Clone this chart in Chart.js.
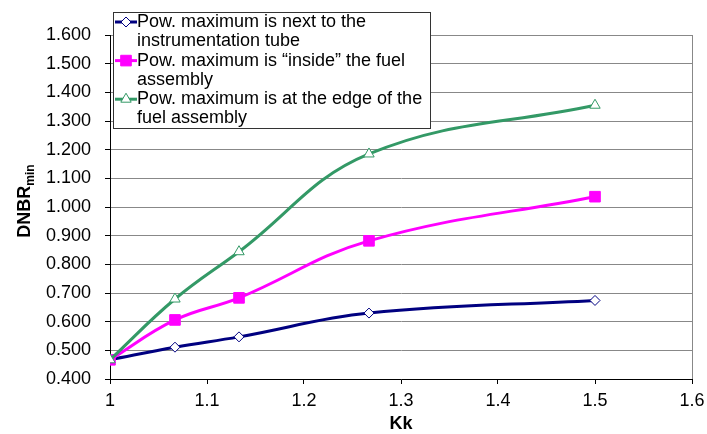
<!DOCTYPE html>
<html>
<head>
<meta charset="utf-8">
<script src="https://cdn.jsdelivr.net/npm/chart.js@4/dist/chart.umd.min.js"></script>
<style>
  html, body { margin: 0; padding: 0; background: #fff; }
  #wrap { width: 707px; height: 434px; position: relative; }
</style>
</head>
<body>
<div id="wrap"><canvas id="dnbrChart"></canvas></div>
<script>
// ── Data ─────────────────────────────────────────────────────────────
const kk = [1, 1.067, 1.133, 1.267, 1.5];

const nextToTube = [0.467, 0.511, 0.547, 0.630, 0.674];
const insideFA   = [0.467, 0.606, 0.683, 0.882, 1.036];
const edgeOfFA   = [0.467, 0.679, 0.844, 1.185, 1.355];

const yTicks = [0.4, 0.5, 0.6, 0.7, 0.8, 0.9, 1.0, 1.1, 1.2, 1.3, 1.4, 1.5, 1.6];
const xTicks = [1, 1.1, 1.2, 1.3, 1.4, 1.5, 1.6];

const series = [
  { label: ["Pow. maximum is next to the", "instrumentation tube"], data: nextToTube,
    color: "#000080", style: "rectRot", radius: 5, fill: "#fff", order: 3 },
  { label: ["Pow. maximum is \u201cinside\u201d the fuel", "assembly"], data: insideFA,
    color: "#ff00ff", style: "rect", radius: 7.5, fill: "#ff00ff", order: 2 },
  { label: ["Pow. maximum is at the edge of the", "fuel assembly"], data: edgeOfFA,
    color: "#339966", style: "triangle", radius: 6, fill: "#fff", order: 1 },
];

const FONT = "'Liberation Sans', Arial, sans-serif";

const datasets = series.map((s) => ({
  label: s.label.join(" "),
  data: s.data.map((v, i) => ({ x: kk[i], y: v })),
  borderColor: s.color,
  backgroundColor: s.fill,
  borderWidth: 3,
  tension: 0.4,
  pointStyle: s.style,
  pointRadius: s.radius,
  pointBorderColor: s.color,
  pointBackgroundColor: s.fill,
  pointBorderWidth: 1,
  order: s.order,
}));

// ── Custom drawing: legend box, axis titles ──────────────────────────
function marker(ctx, s, x, y) {
  ctx.save();
  ctx.strokeStyle = s.color;
  ctx.lineWidth = 3;
  ctx.beginPath();
  ctx.moveTo(x - 11, y);
  ctx.lineTo(x + 11, y);
  ctx.stroke();
  ctx.lineWidth = 1;
  ctx.fillStyle = s.fill;
  const r = s.radius;
  ctx.beginPath();
  if (s.style === "rectRot") {
    ctx.moveTo(x, y - r); ctx.lineTo(x + r, y); ctx.lineTo(x, y + r); ctx.lineTo(x - r, y);
  } else if (s.style === "rect") {
    const h = r * Math.SQRT1_2;
    ctx.rect(x - h, y - h, 2 * h, 2 * h);
  } else {
    ctx.moveTo(x, y - r);
    ctx.lineTo(x + r * 0.866, y + r * 0.5);
    ctx.lineTo(x - r * 0.866, y + r * 0.5);
  }
  ctx.closePath();
  ctx.fill();
  ctx.stroke();
  ctx.restore();
}

const extras = {
  id: "extras",
  afterDraw(chart) {
    const ctx = chart.ctx;
    const area = chart.chartArea;
    // legend
    ctx.save();
    ctx.fillStyle = "#fff";
    ctx.fillRect(113.5, 12.5, 317, 116);
    ctx.strokeStyle = "#333";
    ctx.lineWidth = 1;
    ctx.strokeRect(113.5, 12.5, 317, 116);
    ctx.font = "18px " + FONT;
    ctx.fillStyle = "#000";
    ctx.textBaseline = "middle";
    let y = 22;
    series.forEach((s) => {
      marker(ctx, s, 126, y);
      s.label.forEach((line) => {
        ctx.fillText(line, 137, y);
        y += 19.3;
      });
    });
    ctx.restore();

    // x axis title
    ctx.save();
    ctx.fillStyle = "#000";
    ctx.font = "bold 18px " + FONT;
    ctx.textAlign = "center";
    ctx.textBaseline = "middle";
    ctx.fillText("Kk", (area.left + area.right) / 2, 424);
    ctx.restore();

    // y axis title: DNBR_min
    ctx.save();
    ctx.translate(24, 201);
    ctx.rotate(-Math.PI / 2);
    ctx.fillStyle = "#000";
    ctx.textBaseline = "alphabetic";
    ctx.font = "bold 18px " + FONT;
    const w1 = ctx.measureText("DNBR").width;
    ctx.font = "bold 12px " + FONT;
    const w2 = ctx.measureText("min").width;
    const start = -(w1 + w2) / 2;
    ctx.font = "bold 18px " + FONT;
    ctx.fillText("DNBR", start, 6);
    ctx.font = "bold 12px " + FONT;
    ctx.fillText("min", start + w1, 10);
    ctx.restore();
  },
};

// ── Chart ────────────────────────────────────────────────────────────
new Chart(document.getElementById("dnbrChart"), {
  type: "line",
  data: { datasets },
  plugins: [extras],
  options: {
    responsive: true,
    maintainAspectRatio: false,
    animation: false,
    layout: { padding: { top: 35, right: 15, bottom: 0, left: 0 } },
    plugins: {
      legend: { display: false },
      tooltip: { enabled: false },
    },
    scales: {
      x: {
        type: "linear",
        min: 1,
        max: 1.6,
        afterBuildTicks: (axis) => { axis.ticks = xTicks.map((v) => ({ value: v })); },
        afterFit: (axis) => {
          axis.height = 55;
          axis.paddingLeft = 0;
          axis.paddingRight = 0;
        },
        ticks: {
          color: "#000",
          font: { family: FONT, size: 18 },
          padding: 6,
          maxRotation: 0,
          callback: (v) => String(+v.toFixed(1)),
        },
        grid: {
          color: (c) => (c.tick && c.tick.value === 1.6 ? "#888" : "transparent"),
          tickColor: "#000",
          tickLength: 5,
        },
        border: { color: "#000", width: 1 },
      },
      y: {
        min: 0.4,
        max: 1.6,
        afterBuildTicks: (axis) => { axis.ticks = yTicks.map((v) => ({ value: v })); },
        afterFit: (axis) => {
          axis.width = 110;
          axis.paddingTop = 0;
          axis.paddingBottom = 0;
        },
        ticks: {
          color: "#000",
          font: { family: FONT, size: 18 },
          padding: 14,
          callback: (v) => v.toFixed(3),
        },
        grid: {
          color: "#888",
          tickColor: "#000",
          tickLength: 5,
        },
        border: { color: "#000", width: 1 },
      },
    },
  },
});
</script>
</body>
</html>
